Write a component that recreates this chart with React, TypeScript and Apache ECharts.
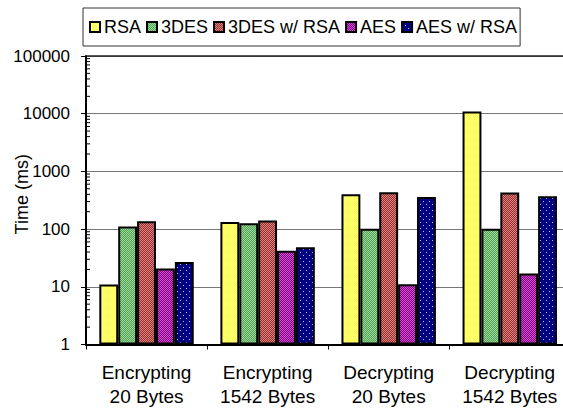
import React, { useEffect, useRef } from "react";
import * as echarts from "echarts";

const categories = ["Encrypting\n20 Bytes", "Encrypting\n1542 Bytes", "Decrypting\n20 Bytes", "Decrypting\n1542 Bytes"];
const seriesNames = ["RSA", "3DES", "3DES w/ RSA", "AES", "AES w/ RSA"];
const rsa = [11, 133, 403, 10900];
const des3 = [111, 126, 101, 101];
const des3Rsa = [137, 141, 436, 432];
const aes = [20.8, 42, 11.1, 17];
const aesRsa = [27, 48.6, 361, 372];
const yTicks = [1, 10, 100, 1000, 10000, 100000];

// Small repeating tiles that give each bar its hatch texture.
function makeTile(size: number, bg: string, fg: string, dots: [number, number][]) {
  const c = document.createElement("canvas");
  c.width = size;
  c.height = size;
  const ctx = c.getContext("2d")!;
  ctx.fillStyle = bg;
  ctx.fillRect(0, 0, size, size);
  ctx.fillStyle = fg;
  dots.forEach(([x, y]) => ctx.fillRect(x, y, 1, 1));
  return { image: c, repeat: "repeat" as const };
}

export default function App() {
  const ref = useRef<HTMLDivElement>(null);

  useEffect(() => {
    if (!ref.current) return;
    const chart = echarts.init(ref.current, undefined, { renderer: "svg" });

    const checker: [number, number][] = [[0, 0], [1, 1]];
    const fills = [
      makeTile(2, "#ffff33", "#ffff99", checker),
      makeTile(2, "#4fa64f", "#a0d4a0", checker),
      makeTile(2, "#993030", "#dc8080", checker),
      makeTile(2, "#850085", "#d050d0", checker),
      makeTile(6, "#000080", "#b8c0ff", [[0, 0], [3, 3]]),
    ];
    const values = [rsa, des3, des3Rsa, aes, aesRsa];

    // Minor log ticks (2..9 within each decade) drawn on the inside of the value axis.
    const minorTicks: number[][] = [];
    for (let d = 0; d < yTicks.length - 1; d++) {
      for (let m = 2; m <= 9; m++) minorTicks.push([0, m * yTicks[d]]);
    }

    const font = "'Liberation Sans', Arial, sans-serif";

    chart.setOption({
      animation: false,
      textStyle: { fontFamily: font, color: "#000" },
      legend: {
        data: seriesNames,
        left: 83,
        top: 8,
        padding: [10, 3, 10, 6],
        itemGap: 5,
        itemWidth: 10,
        itemHeight: 10,
        icon: "rect",
        borderColor: "#333",
        borderWidth: 1,
        textStyle: { fontSize: 18, color: "#000", fontFamily: font, padding: [0, 0, 0, -1] },
      },
      grid: {
        left: 86,
        top: 56,
        bottom: 65.5,
        right: -7.3,
        containLabel: false,
        outerBoundsMode: "none",
      },
      xAxis: [
        {
          type: "category",
          data: categories,
          axisLine: { lineStyle: { color: "#000", width: 2 } },
          axisTick: { show: true, length: 5, lineStyle: { color: "#000", width: 1 } },
          axisLabel: {
            interval: 0,
            hideOverlap: false,
            fontSize: 19,
            lineHeight: 24,
            color: "#000",
            margin: 16,
            fontFamily: font,
          },
        },
        {
          type: "category",
          data: categories,
          position: "top",
          axisLine: { lineStyle: { color: "#222", width: 1.5 } },
          axisTick: { show: false },
          axisLabel: { show: false },
        },
      ],
      yAxis: {
        type: "log",
        logBase: 10,
        min: 1,
        max: 100000,
        name: "Time (ms)",
        nameLocation: "middle",
        nameGap: 55,
        nameMoveOverlap: false,
        nameTextStyle: { fontSize: 18, color: "#000", fontFamily: font, padding: [0, 0, 0, 12] },
        axisLine: { show: true, lineStyle: { color: "#000", width: 2 } },
        axisTick: { show: true, length: 5, lineStyle: { color: "#000" } },
        axisLabel: {
          fontSize: 17,
          color: "#000",
          margin: 16,
          fontFamily: font,
          formatter: (v: number) => String(v),
        },
        splitLine: { show: true, lineStyle: { color: "#777", width: 1.2 } },
      },
      series: [
        ...seriesNames.map((name, i) => ({
          name,
          type: "bar",
          data: values[i],
          barGap: "0%",
          barCategoryGap: "22%",
          itemStyle: { color: fills[i], borderColor: "#000", borderWidth: 2 },
        })),
        {
          type: "custom",
          silent: true,
          data: minorTicks,
          z: 10,
          renderItem: (params: any, api: any) => {
            const y = api.coord([0, api.value(1)])[1];
            const x = params.coordSys.x;
            return {
              type: "line",
              shape: { x1: x, y1: y, x2: x + 4, y2: y },
              style: { stroke: "#000", lineWidth: 1 },
            };
          },
        },
      ],
    });

    return () => chart.dispose();
  }, []);

  return (
    <div
      ref={ref}
      style={{ position: "absolute", left: 0, top: 0, width: 563, height: 410, background: "#fff" }}
    />
  );
}
